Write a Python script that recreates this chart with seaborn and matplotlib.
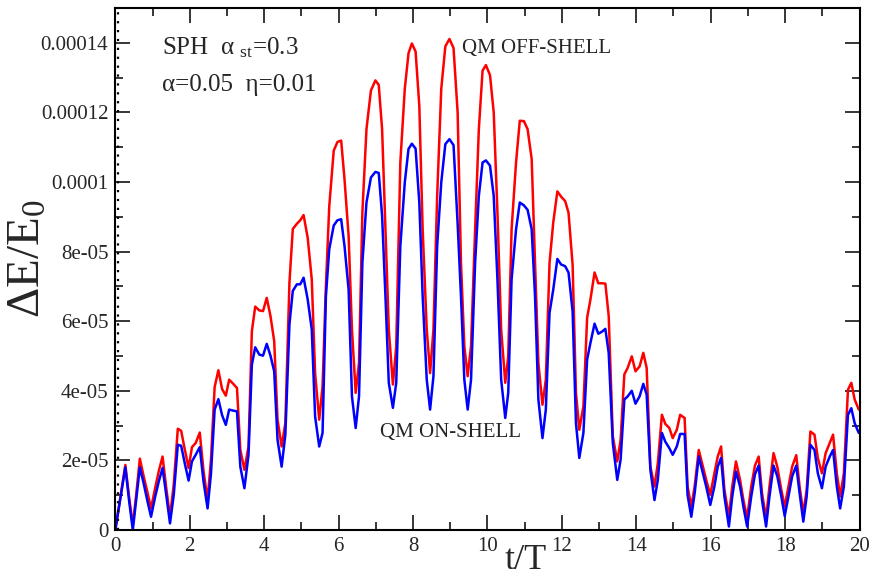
import numpy as np
import pandas as pd
import matplotlib
matplotlib.use("Agg")
import matplotlib.pyplot as plt
from matplotlib.ticker import MultipleLocator, FixedLocator, FixedFormatter
import seaborn as sns

# time in units of the period T
t = [0.00, 0.27, 0.37, 0.47, 0.56, 0.66, 0.76, 0.86, 0.96, 1.07, 1.17, 1.27, 1.37, 1.47,
     1.57, 1.68, 1.77, 1.87, 1.97, 2.06, 2.16, 2.27, 2.37, 2.48, 2.57, 2.67, 2.77, 2.87,
     2.97, 3.06, 3.17, 3.27, 3.36, 3.47, 3.58, 3.67, 3.76, 3.87, 3.97, 4.07, 4.17, 4.27,
     4.36, 4.47, 4.57, 4.68, 4.77, 4.88, 4.97, 5.06, 5.17, 5.28, 5.37, 5.48, 5.57, 5.66,
     5.75, 5.87, 5.97, 6.07, 6.16, 6.27, 6.36, 6.46, 6.55, 6.64, 6.75, 6.87, 6.99, 7.08,
     7.17, 7.26, 7.35, 7.46, 7.55, 7.66, 7.78, 7.88, 7.97, 8.07, 8.17, 8.26, 8.37, 8.46,
     8.55, 8.65, 8.76, 8.87, 8.98, 9.09, 9.20, 9.29, 9.38, 9.47, 9.56, 9.67, 9.77, 9.87,
     9.96, 10.07, 10.17, 10.27, 10.37, 10.48, 10.56, 10.65, 10.77, 10.87, 10.98, 11.08,
     11.19, 11.28, 11.37, 11.48, 11.57, 11.67, 11.77, 11.88, 11.98, 12.09, 12.18, 12.29,
     12.38, 12.47, 12.58, 12.68, 12.77, 12.88, 12.98, 13.08, 13.17, 13.26, 13.37, 13.49,
     13.58, 13.68, 13.77, 13.88, 13.98, 14.09, 14.19, 14.28, 14.38, 14.49, 14.58, 14.69,
     14.78, 14.89, 14.98, 15.09, 15.18, 15.30, 15.38, 15.48, 15.57, 15.68, 15.79, 15.88,
     15.99, 16.10, 16.19, 16.28, 16.37, 16.49, 16.58, 16.68, 16.79, 16.88, 16.98, 17.09,
     17.19, 17.29, 17.38, 17.49, 17.58, 17.69, 17.79, 17.90, 17.99, 18.09, 18.19, 18.30,
     18.39, 18.49, 18.58, 18.68, 18.79, 18.88, 18.99, 19.09, 19.20, 19.29, 19.39, 19.48,
     19.58, 19.69, 19.78, 19.87, 19.98]

# relative energy change, in units of 1e-5
off_shell = [0.00, 1.87, 0.95, 0.14, 1.00, 2.05, 1.55, 1.10, 0.62, 1.20, 1.70, 2.11, 1.20, 0.38,
             1.30, 2.91, 2.85, 2.30, 1.78, 2.38, 2.50, 2.80, 1.70, 0.86, 2.00, 4.11, 4.59, 4.05,
             3.86, 4.32, 4.20, 4.08, 2.30, 1.73, 2.40, 5.71, 6.42, 6.31, 6.29, 6.67, 6.15, 5.43,
             3.17, 2.40, 3.07, 7.11, 8.65, 8.80, 8.90, 9.05, 8.40, 7.20, 4.50, 3.17, 4.13, 7.01,
             9.30, 10.90, 11.15, 11.19, 10.08, 8.45, 5.76, 3.94, 4.80, 9.12, 11.52, 12.63, 12.92, 12.79,
             11.52, 8.64, 5.76, 4.18, 5.28, 10.56, 12.68, 13.70, 13.98, 13.75, 12.19, 8.64, 5.76, 4.51,
             5.76, 9.60, 12.68, 13.90, 14.11, 13.85, 12.00, 7.68, 5.28, 4.42, 5.28, 8.64, 11.52, 13.20,
             13.36, 13.07, 12.00, 9.12, 5.76, 4.23, 4.99, 8.64, 10.56, 11.76, 11.75, 11.52,
             10.66, 7.68, 4.80, 3.60, 4.32, 7.68, 8.84, 9.73, 9.58, 9.45, 9.12, 7.62,
             3.94, 2.88, 3.55, 6.10, 6.63, 7.40, 7.09, 7.09, 7.08, 6.15, 2.69, 1.97,
             2.59, 4.47, 4.66, 4.99, 4.56, 4.70, 5.09, 4.66, 1.82, 1.25, 1.92, 3.31,
             3.05, 2.93, 2.64, 2.88, 3.31, 3.22, 1.25, 0.67, 1.25, 2.30, 1.82, 1.44,
             1.01, 1.63, 2.11, 2.40, 1.15, 0.38, 1.25, 1.97, 1.44, 0.86, 0.34, 1.25,
             1.85, 2.11, 1.06, 0.34, 1.25, 2.21, 1.82, 1.15, 0.67, 1.25, 1.82, 2.15,
             1.25, 0.48, 1.15, 2.83, 2.74, 2.07, 1.63, 2.21, 2.50, 2.74, 1.63, 0.96,
             1.63, 4.03, 4.23, 3.75, 3.46]

on_shell = [0.00, 1.80, 0.85, 0.00, 0.85, 1.80, 1.35, 0.85, 0.38, 0.95, 1.40, 1.78, 1.00, 0.19,
            1.00, 2.45, 2.42, 1.90, 1.42, 1.97, 2.16, 2.38, 1.40, 0.62, 1.60, 3.46, 3.76, 3.30,
            3.02, 3.46, 3.43, 3.41, 1.82, 1.20, 2.16, 4.75, 5.25, 5.04, 5.01, 5.35, 5.01, 4.56,
            2.59, 1.82, 2.74, 5.91, 6.87, 7.06, 7.06, 7.25, 6.63, 5.76, 3.26, 2.40, 2.79, 6.72,
            8.07, 8.75, 8.90, 8.93, 8.16, 6.91, 3.84, 2.93, 3.84, 7.68, 9.41, 10.13, 10.29, 10.26,
            9.03, 6.72, 4.23, 3.51, 4.23, 8.16, 9.99, 10.95, 11.10, 10.96, 9.41, 6.72, 4.32, 3.46,
            4.42, 8.16, 9.99, 11.09, 11.23, 11.06, 8.80, 6.72, 4.32, 3.46, 4.32, 7.68, 9.60, 10.56,
            10.62, 10.47, 9.60, 7.20, 4.32, 3.22, 3.94, 7.20, 8.64, 9.41, 9.33, 9.20,
            8.64, 6.72, 3.75, 2.64, 3.46, 6.24, 6.91, 7.79, 7.63, 7.58, 7.40, 6.28,
            3.07, 2.07, 2.79, 4.90, 5.38, 5.93, 5.64, 5.70, 5.78, 5.09, 2.50, 1.44,
            2.02, 3.75, 3.84, 4.00, 3.63, 3.84, 4.20, 3.89, 1.73, 0.86, 1.44, 2.79,
            2.54, 2.35, 2.16, 2.40, 2.76, 2.76, 1.00, 0.38, 1.06, 2.11, 1.63, 1.25,
            0.72, 1.25, 1.82, 2.07, 0.96, 0.10, 0.96, 1.68, 1.25, 0.67, 0.10, 0.96,
            1.60, 1.85, 0.86, 0.10, 0.96, 1.85, 1.55, 0.96, 0.40, 0.96, 1.54, 1.85,
            1.06, 0.24, 0.96, 2.45, 2.30, 1.63, 1.20, 1.82, 2.11, 2.30, 1.25, 0.62,
            1.25, 3.31, 3.50, 3.07, 2.79]

series_names = ["QM OFF-SHELL", "QM ON-SHELL"]
series_colors = ["#ff0000", "#0000ff"]

y_ticks = [0, 2e-5, 4e-5, 6e-5, 8e-5, 1e-4, 1.2e-4, 1.4e-4]
y_tick_labels = ["0", "2e-05", "4e-05", "6e-05", "8e-05", "0.0001", "0.00012", "0.00014"]
x_ticks = [0, 2, 4, 6, 8, 10, 12, 14, 16, 18, 20]

sns.set_style("ticks")
plt.rcParams["font.family"] = ["Liberation Serif", "DejaVu Serif"]
plt.rcParams["mathtext.fontset"] = "custom"
plt.rcParams["mathtext.rm"] = "Liberation Serif"
plt.rcParams["mathtext.it"] = "Liberation Serif:italic"
plt.rcParams["mathtext.bf"] = "Liberation Serif:bold"

df = pd.DataFrame({
    "t": t * 2,
    "dE": np.concatenate([np.array(off_shell), np.array(on_shell)]) * 1e-5,
    "model": [series_names[0]] * len(t) + [series_names[1]] * len(t),
})

fig = plt.figure(figsize=(8.88, 5.79), dpi=100)
ax = fig.add_axes([115.3 / 888, 1 - 530 / 579, 744.2 / 888, 522 / 579])

sns.lineplot(data=df, x="t", y="dE", hue="model", hue_order=series_names,
             palette=dict(zip(series_names, series_colors)), estimator=None,
             sort=False, linewidth=1.8, legend=False, ax=ax)

# dotted marker line just after t = 0
ax.axvline(0.08, color="black", linewidth=1.6, linestyle=(0, (1, 3.0)))

ax.set_xlim(0, 20)
ax.set_ylim(0, 1.5e-4)

ax.xaxis.set_major_locator(FixedLocator(x_ticks))
ax.xaxis.set_minor_locator(MultipleLocator(1))
ax.yaxis.set_major_locator(FixedLocator(y_ticks))
ax.yaxis.set_major_formatter(FixedFormatter(y_tick_labels))
ax.yaxis.set_minor_locator(MultipleLocator(1e-5))

ax.tick_params(which="both", direction="in", top=True, right=True, width=1.1, color="black")
ax.tick_params(which="major", length=11)
ax.tick_params(which="minor", length=5.5)
ax.tick_params(axis="both", which="major", labelsize=15, pad=5)
for spine in ax.spines.values():
    spine.set_linewidth(1.5)
    spine.set_color("black")

ax.set_xlabel("t/T", fontsize=26)
ax.set_ylabel(r"ΔE/E$_{0}$", fontsize=34)
ax.xaxis.set_label_coords(0.551, -0.026)
ax.yaxis.set_label_coords(-0.088, 0.52)

ax.text(1.26, 1.385e-4, r"SPH  α $_{\rm st}$=0.3", fontsize=18, va="center", ha="left")
ax.text(1.26, 1.279e-4, "α=0.05  η=0.01", fontsize=18, va="center", ha="left")
ax.text(9.32, 1.385e-4, series_names[0], fontsize=15, va="center", ha="left")
ax.text(7.12, 2.79e-5, series_names[1], fontsize=15, va="center", ha="left")

fig.savefig("out.png", dpi=100)
